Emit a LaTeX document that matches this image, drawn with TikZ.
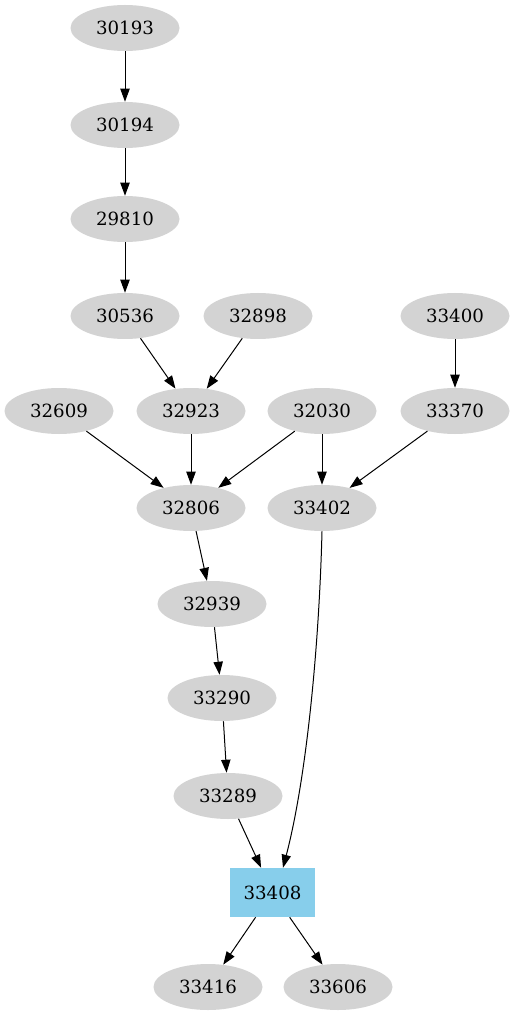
\documentclass[tikz,border=0pt]{standalone}
\usepackage{fontspec}
\setmainfont{DejaVu Serif}
\usetikzlibrary{shapes.geometric,arrows.meta}
\definecolor{nodegray}{HTML}{D3D3D3}
\definecolor{skyblue}{HTML}{87CEEB}
\begin{document}
\begin{tikzpicture}[x=0.75pt,y=-0.75pt,
  every node/.style={font=\fontsize{13.65}{16}\selectfont},
  gnode/.style={ellipse,fill=nodegray,draw=none,minimum width=81.75pt,minimum height=34.5pt,inner sep=0pt},
  bnode/.style={rectangle,fill=skyblue,draw=none,minimum width=63.75pt,minimum height=36.75pt,inner sep=0pt},
  edge/.style={draw=black,line width=0.75pt,-{Triangle[length=9.75pt,width=7pt]}}]
\useasboundingbox (0,0) rectangle (514,1019);
\node[gnode] (n30193) at (125,28) {30193};
\node[gnode] (n30194) at (125,125) {30194};
\node[gnode] (n29810) at (125,219) {29810};
\node[gnode] (n30536) at (125,316) {30536};
\node[gnode] (n32898) at (258,316) {32898};
\node[gnode] (n33400) at (455,316) {33400};
\node[gnode] (n32609) at (59,411) {32609};
\node[gnode] (n32923) at (191,411) {32923};
\node[gnode] (n32030) at (322,411) {32030};
\node[gnode] (n33370) at (455,411) {33370};
\node[gnode] (n32806) at (191,508) {32806};
\node[gnode] (n33402) at (322,508) {33402};
\node[gnode] (n32939) at (212,604) {32939};
\node[gnode] (n33290) at (222,698) {33290};
\node[gnode] (n33289) at (228,796) {33289};
\node[bnode] (n33408) at (272.5,892.5) {33408};
\node[gnode] (n33416) at (208,987) {33416};
\node[gnode] (n33606) at (338,987) {33606};
\draw[edge] (n30193) -- (n30194);
\draw[edge] (n30194) -- (n29810);
\draw[edge] (n29810) -- (n30536);
\draw[edge] (n30536) -- (n32923);
\draw[edge] (n32898) -- (n32923);
\draw[edge] (n33400) -- (n33370);
\draw[edge] (n32609) -- (n32806);
\draw[edge] (n32923) -- (n32806);
\draw[edge] (n32030) -- (n32806);
\draw[edge] (n32030) -- (n33402);
\draw[edge] (n33370) -- (n33402);
\draw[edge] (n32806) -- (n32939);
\draw[edge] (n32939) -- (n33290);
\draw[edge] (n33290) -- (n33289);
\draw[edge] (n33289) -- (n33408);
\draw[edge] (n33402.south) .. controls (319,650) and (306,780) .. (n33408.north -| 283,0);
\draw[edge] (n33408) -- (n33416);
\draw[edge] (n33408) -- (n33606);
\end{tikzpicture}
\end{document}
